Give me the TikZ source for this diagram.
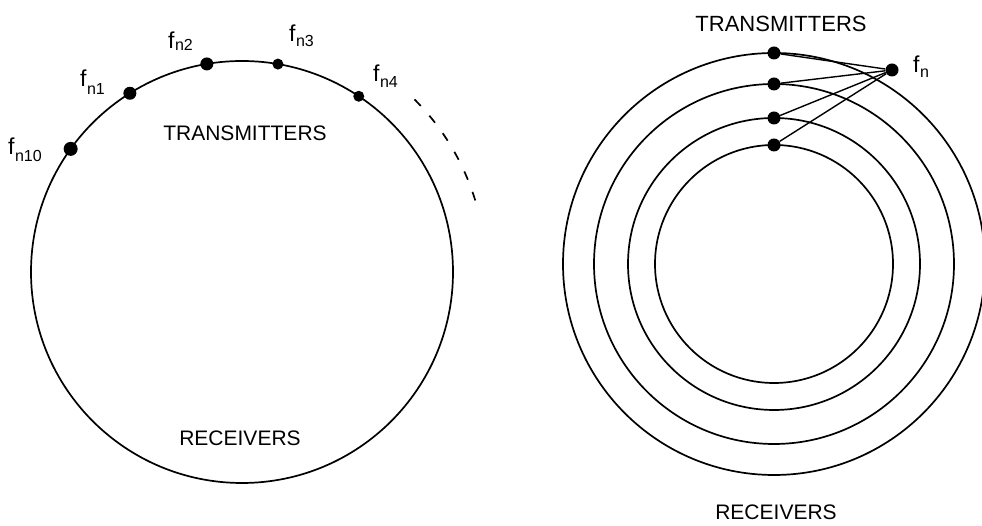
\documentclass[tikz,border=0pt]{standalone}
\usepackage{fontspec}
\setmainfont{Liberation Sans}
\newcommand{\fnlab}[2]{{\fontsize{23}{23}\selectfont f}\kern0.5pt\raisebox{-#1pt}{\fontsize{16}{16}\selectfont #2}}
\begin{document}
\begin{tikzpicture}[x=1pt,y=1pt,
  ring/.style={line width=1.7pt},
  dot/.style={circle,fill=black,inner sep=0pt,minimum size=13pt},
  smalldot/.style={circle,fill=black,inner sep=0pt,minimum size=11pt},
  biglab/.style={anchor=base,inner sep=0pt,font=\fontsize{21}{21}\selectfont},
  flabel/.style={anchor=base west,inner sep=0pt},
  link/.style={line width=1.4pt}]
\useasboundingbox (0,0) rectangle (982,526);
\clip (0,0) rectangle (982,526);
% ---------- left diagram ----------
\coordinate (LC) at (242,254);
\draw[ring] (LC) circle (211);
\draw[ring,dash pattern=on 9pt off 13pt] ([shift={(45:244)}]LC) arc (45:16.5:244);
\node[dot,minimum size=14pt] (d10) at ([shift={(144.3:211)}]LC) {};
\node[dot] (d1) at ([shift={(122.1:211)}]LC) {};
\node[dot] (d2) at ([shift={(99.6:211)}]LC) {};
\node[smalldot] (d3) at ([shift={(80.2:211)}]LC) {};
\node[smalldot] (d4) at ([shift={(56.4:211)}]LC) {};
\node[flabel] (l10) at (8,371) {\fnlab{7}{n10}};
\node[flabel] (l1) at (80,439) {\fnlab{8}{n1}};
\node[flabel] (l2) at (168,477) {\fnlab{2}{n2}};
\node[flabel] (l3) at (289,484) {\fnlab{5}{n3}};
\node[flabel] (l4) at (373,444) {\fnlab{6}{n4}};
\node[biglab] (ltx) at (245,385) {TRANSMITTERS};
\node[biglab] (lrx) at (240,80) {RECEIVERS};
% ---------- right diagram ----------
\coordinate (RC) at (774,262);
\foreach \r in {211,180,146,119} \draw[ring] (RC) circle (\r);
\node[dot] (r1) at ([shift={(0,211)}]RC) {};
\node[dot] (r2) at ([shift={(0,180)}]RC) {};
\node[dot] (r3) at ([shift={(0,146)}]RC) {};
\node[dot] (r4) at ([shift={(0,119)}]RC) {};
\node[dot] (fn) at (892,456) {};
\draw[link] (r1) -- (fn);
\draw[link] (r2) -- (fn);
\draw[link] (r3) -- (fn);
\draw[link] (r4) -- (fn);
\node[flabel] (lfn) at (913,453) {\fnlab{5}{n}};
\node[biglab,font=\fontsize{22}{22}\selectfont] (rtx) at (781,494) {TRANSMITTERS};
\node[biglab] (rrx) at (776,6) {RECEIVERS};
\end{tikzpicture}
\end{document}
